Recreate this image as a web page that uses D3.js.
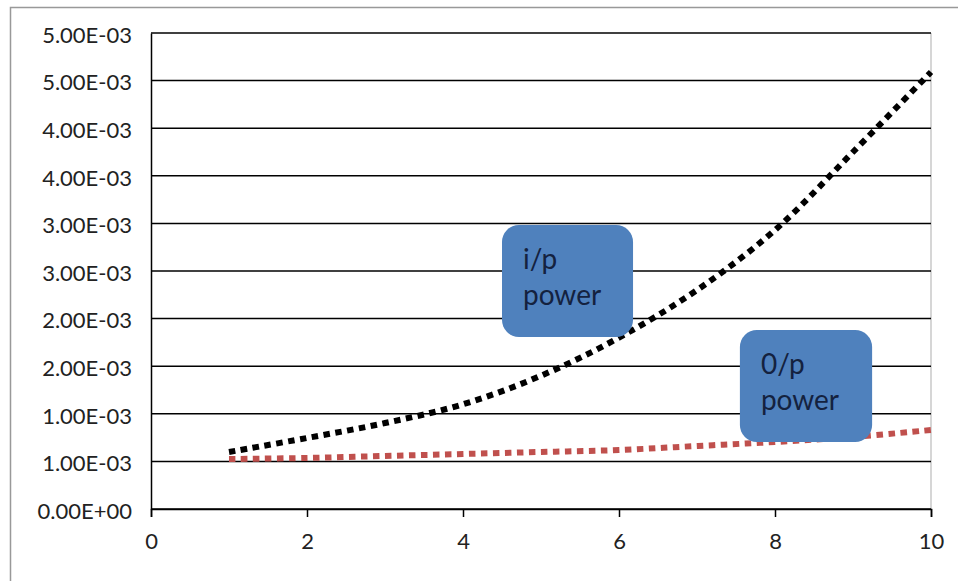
<!DOCTYPE html>
<html>
<head>
<meta charset="utf-8">
<script src="https://cdn.jsdelivr.net/npm/d3@7"></script>
<style>
  html, body { margin: 0; padding: 0; background: #fff; }
  svg { display: block; }
</style>
</head>
<body>
<svg id="chart" width="958" height="581"></svg>
<script>
// ---- data ----
const xValues = [1, 2, 3, 4, 5, 6, 7, 8, 9, 10];
const inputPower = [0.000599, 0.000746, 0.000903, 0.00110, 0.00140, 0.00180, 0.00230, 0.00293, 0.00375, 0.00459];
const outputPower = [0.000525, 0.000536, 0.000557, 0.000578, 0.000599, 0.000620, 0.000662, 0.000704, 0.000756, 0.000830];
const yTickValues = [0, 0.0005, 0.001, 0.0015, 0.002, 0.0025, 0.003, 0.0035, 0.004, 0.0045, 0.005];
const yTickLabels = ["0.00E+00", "1.00E-03", "1.00E-03", "2.00E-03", "2.00E-03", "3.00E-03", "3.00E-03", "4.00E-03", "4.00E-03", "5.00E-03", "5.00E-03"];
const xTickValues = [0, 2, 4, 6, 8, 10];
const xTickLabels = ["0", "2", "4", "6", "8", "10"];
const boxLabels = [["i/p", "power"], ["0/p", "power"]];

// ---- layout ----
const svg = d3.select("#chart");
const plot = { left: 151, right: 931, top: 33, bottom: 509 };
const x = d3.scaleLinear().domain([0, 10]).range([plot.left, plot.right]);
const y = d3.scaleLinear().domain([0, 0.005]).range([plot.bottom, plot.top]);
const font = "Lato, 'Open Sans', sans-serif";

// chart-area border (only top & left visible in the crop)
svg.append("path")
  .attr("d", "M10.5,581 L10.5,7.5 L958,7.5")
  .attr("fill", "none").attr("stroke", "#999").attr("stroke-width", 1.5);

// plot-area right border
svg.append("line")
  .attr("x1", plot.right).attr("x2", plot.right)
  .attr("y1", plot.top).attr("y2", plot.bottom)
  .attr("stroke", "#bbb").attr("stroke-width", 1.2);

// gridlines
svg.append("g").selectAll("line").data(yTickValues).join("line")
  .attr("x1", plot.left).attr("x2", plot.right)
  .attr("y1", d => y(d)).attr("y2", d => y(d))
  .attr("stroke", "#000").attr("stroke-width", 1.5);

// y axis
const yAxis = d3.axisLeft(y).tickValues(yTickValues).tickSize(0).tickPadding(19)
  .tickFormat((d, i) => yTickLabels[i]);
const gy = svg.append("g").attr("transform", `translate(${plot.left},0)`).call(yAxis);
gy.select(".domain").attr("stroke", "#000").attr("stroke-width", 1.5);
gy.selectAll("text").attr("font-family", font).attr("font-size", 22).attr("fill", "#222")
  .attr("dy", "0.42em");

// x axis
const xAxis = d3.axisBottom(x).tickValues(xTickValues).tickSize(8).tickPadding(16)
  .tickFormat((d, i) => xTickLabels[i]);
const gx = svg.append("g").attr("transform", `translate(0,${plot.bottom})`).call(xAxis);
gx.select(".domain").attr("stroke", "#000").attr("stroke-width", 1.5);
gx.selectAll(".tick line").attr("stroke", "#000").attr("stroke-width", 1.5);
gx.selectAll("text").attr("font-family", font).attr("font-size", 22).attr("fill", "#222");

// series
const line = d3.line().x(d => x(d[0])).y(d => y(d[1])).curve(d3.curveCatmullRom);
const outPts = xValues.map((v, i) => [v, outputPower[i]]);
const inPts = xValues.map((v, i) => [v, inputPower[i]]);

svg.append("path").datum(outPts).attr("d", line)
  .attr("fill", "none").attr("stroke", "#C0504D").attr("stroke-width", 6)
  .attr("stroke-dasharray", "6.5,5.5");
svg.append("path").datum(inPts).attr("d", line)
  .attr("fill", "none").attr("stroke", "#000").attr("stroke-width", 6)
  .attr("stroke-dasharray", "6.5,5.5");

// annotation boxes (positioned in data space)
const boxes = [
  { x0: 4.5, x1: 6.18, yTop: 0.002983 },
  { x0: 7.55, x1: 9.245, yTop: 0.001880 }
];
const boxH = 112;
boxes.forEach((b, i) => {
  const bx = x(b.x0), bw = x(b.x1) - x(b.x0), by = y(b.yTop);
  svg.append("rect")
    .attr("x", bx).attr("y", by).attr("width", bw).attr("height", boxH)
    .attr("rx", 17).attr("ry", 17)
    .attr("fill", "#4F81BD");
  const t = svg.append("text").attr("font-family", font).attr("font-size", 28)
    .attr("fill", "#14223f");
  boxLabels[i].forEach((s, j) => {
    t.append("tspan").attr("x", bx + 21).attr("y", by + 44 + j * 36).text(s);
  });
});
</script>
</body>
</html>
